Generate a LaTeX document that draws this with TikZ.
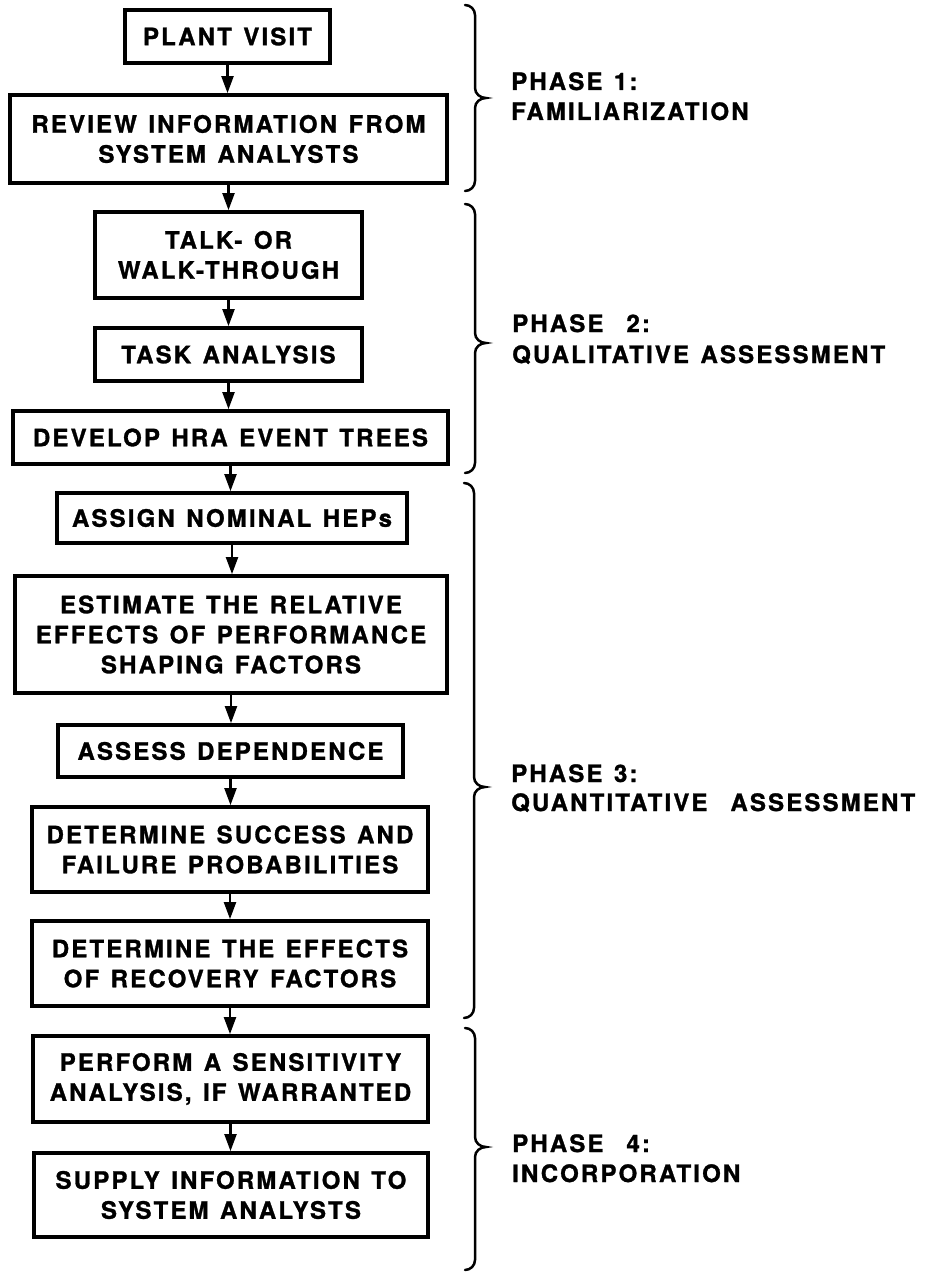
\documentclass[tikz,border=0pt]{standalone}
\usepackage{fontspec}
\setmainfont{TeX Gyre Heros}
\newfontfamily\diagfont{TeX Gyre Heros}[LetterSpace=9,WordSpace=1.3,
  BoldFont={TeX Gyre Heros Bold},BoldFeatures={FakeBold=1.2}]
\usetikzlibrary{arrows.meta}
\begin{document}
\begin{tikzpicture}[x=1pt,y=-1pt,
  box/.style={draw, line width=3.8pt, align=center, inner sep=0pt,
    font=\diagfont\bfseries\fontsize{24}{30}\selectfont},
  flow/.style={line width=2.2pt, -{Triangle[length=17pt,width=12pt]}},
  brace/.style={line width=2.5pt, line cap=round},
  phase/.style={anchor=base west, inner sep=0pt,
    font=\diagfont\bfseries\fontsize{24}{30}\selectfont}]
\useasboundingbox (0,0) rectangle (940,1273);

% boxes
\node[box, minimum width=205pt, minimum height=53pt] (plant) at (227.5,36.5) {PLANT VISIT};
\node[box, minimum width=437pt, minimum height=88pt] (review) at (228.5,139) {REVIEW INFORMATION FROM\\SYSTEM ANALYSTS};
\node[box, minimum width=267pt, minimum height=86pt] (talk) at (228.5,255) {TALK- OR\\WALK-THROUGH};
\node[box, minimum width=267pt, minimum height=53pt] (task) at (228.5,354.5) {TASK ANALYSIS};
\node[box, minimum width=435pt, minimum height=53pt] (develop) at (230.5,437.5) {DEVELOP HRA EVENT TREES};
\node[box, minimum width=350pt, minimum height=50pt] (assign) at (232,518) {ASSIGN NOMINAL HEPs};
\node[box, minimum width=432pt, minimum height=117pt] (estimate) at (231,634.5) {ESTIMATE THE RELATIVE\\EFFECTS OF PERFORMANCE\\SHAPING FACTORS};
\node[box, minimum width=345pt, minimum height=52pt] (assess) at (230.5,751) {ASSESS DEPENDENCE};
\node[box, minimum width=396pt, minimum height=85pt] (success) at (230,849.5) {DETERMINE SUCCESS AND\\FAILURE PROBABILITIES};
\node[box, minimum width=396pt, minimum height=85pt] (recovery) at (230,963.5) {DETERMINE THE EFFECTS\\OF RECOVERY FACTORS};
\node[box, minimum width=395pt, minimum height=86pt] (perform) at (230.5,1079) {PERFORM A SENSITIVITY\\ANALYSIS, IF WARRANTED};
\node[box, minimum width=394pt, minimum height=84pt] (supply) at (231,1195) {SUPPLY INFORMATION TO\\SYSTEM ANALYSTS};

% connectors
\foreach \a/\b in {plant/review, review/talk, talk/task, task/develop, develop/assign,
  assign/estimate, estimate/assess, assess/success, success/recovery,
  recovery/perform, perform/supply}
  \draw[flow] (\a.south) -- (\a.south |- \b.north);

% braces
\newcommand{\phasebrace}[4]{% x, top, tip, bottom
  \draw[brace] ({#1-10},#2) to[out=0,in=90] (#1,{#2+10}) -- (#1,{#3-10})
    to[out=-90,in=180] ({#1+11},#3) to[out=180,in=90] (#1,{#3+10})
    -- (#1,{#4-10}) to[out=-90,in=0] ({#1-10},#4);}
\phasebrace{475}{5}{98}{191}
\phasebrace{475}{204}{343}{473}
\phasebrace{474}{483}{787}{1018}
\phasebrace{475}{1028}{1147}{1270}

% phase labels
\node[phase] (p1a) at (511,90) {PHASE 1:};
\node[phase] (p1b) at (511,120) {FAMILIARIZATION};
\node[phase] (p2a) at (512,332) {PHASE\ \ 2:};
\node[phase] (p2b) at (512,363) {QUALITATIVE ASSESSMENT};
\node[phase] (p3a) at (511,782) {PHASE 3:};
\node[phase] (p3b) at (511,811) {QUANTITATIVE\ \ ASSESSMENT};
\node[phase] (p4a) at (512,1152) {PHASE\ \ 4:};
\node[phase] (p4b) at (512,1182) {INCORPORATION};
\end{tikzpicture}
\end{document}
